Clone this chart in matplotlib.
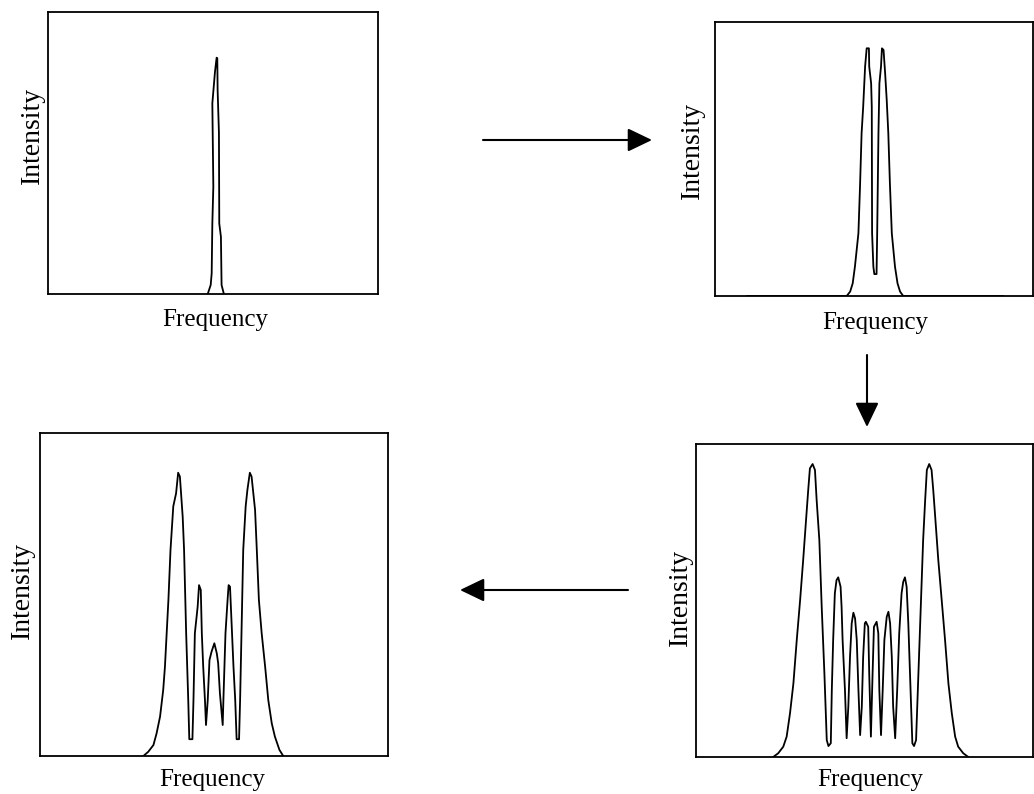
import numpy as np
import matplotlib.pyplot as plt

plt.close('all')
plt.rcParams['font.family'] = ['Liberation Serif', 'DejaVu Serif']

### DATA (frequency / intensity, both in 0-100 units of each box)

# 1) single narrow line
freq1 = [48.4, 49.3, 49.6, 49.8, 50.1, 49.8, 50.6, 51.1, 51.3, 51.4, 51.8, 51.9, 52.4, 52.6, 53.3]
inten1 = [0.0, 3.2, 7.3, 25.0, 38.1, 67.6, 78.8, 83.8, 83.6, 72.3, 57.1, 25.0, 20.3, 3.2, 0.0]

# 2) line split in two
freq2 = [10.1, 41.4, 42.5, 43.3, 44.0, 45.1, 45.6, 46.1, 46.6, 47.2, 47.7, 48.4, 48.5, 49.1,
         49.3, 49.4, 49.8, 50.1, 50.8, 51.0, 51.4, 51.7, 52.2, 52.5, 53.0, 53.5, 54.0, 54.5,
         55.0, 55.6, 56.6, 57.4, 58.2, 59.2, 90.6]
inten2 = [0.0, 0.0, 1.6, 4.6, 10.7, 22.9, 39.9, 59.4, 69.1, 83.7, 90.4, 90.4, 83.7, 77.6,
          69.1, 22.9, 10.7, 8.0, 8.0, 22.9, 59.4, 77.6, 83.7, 90.4, 89.8, 81.3, 71.5, 59.4,
          41.1, 22.9, 10.7, 4.6, 1.6, 0.0, 0.0]

# 3) five components (bottom left)
freq3 = [29.7, 31.1, 32.6, 33.5, 34.5, 35.4, 35.9, 36.4, 36.9, 37.5, 38.3, 39.1, 39.7, 40.2,
         41.0, 41.4, 42.0, 42.6, 42.9, 43.8, 44.1, 44.5, 45.3, 45.7, 46.2, 46.5, 46.9, 47.4,
         47.7, 48.2, 48.7, 49.3, 50.1, 50.8, 51.2, 51.7, 52.5, 52.7, 53.3, 53.9, 54.2, 54.6,
         55.1, 55.6, 56.1, 56.5, 57.2, 57.5, 57.9, 58.4, 59.1, 59.6, 60.3, 60.8, 61.8, 62.3,
         62.9, 63.7, 64.7, 65.6, 66.6, 67.5, 68.8, 69.9]
inten3 = [0.0, 1.3, 3.4, 7.0, 12.2, 20.4, 27.6, 38.0, 48.3, 63.8, 77.3, 81.3, 87.7, 86.5,
          74.1, 63.8, 38.0, 17.3, 5.2, 5.2, 17.3, 38.0, 46.2, 52.9, 51.4, 38.0, 27.6, 17.3,
          9.6, 17.3, 29.7, 32.3, 34.9, 31.8, 28.7, 19.4, 9.6, 17.3, 38.0, 48.3, 52.9, 52.4,
          40.0, 27.6, 17.3, 5.2, 5.2, 17.3, 38.0, 63.8, 77.3, 82.4, 87.7, 86.5, 76.2, 63.8,
          48.3, 38.0, 27.6, 17.3, 10.1, 6.0, 1.9, 0.0]

# 4) nine components (bottom right)
freq4 = [22.9, 24.4, 25.9, 26.9, 27.9, 28.9, 29.9, 30.9, 31.8, 32.8, 33.3, 33.8, 34.6, 35.3,
         35.8, 36.6, 37.3, 38.1, 38.8, 39.3, 40.0, 40.3, 40.7, 41.2, 41.7, 42.2, 42.9, 43.2,
         43.5, 44.2, 44.7, 45.2, 45.7, 46.2, 46.7, 47.2, 47.7, 48.2, 48.7, 49.2, 49.6, 50.1,
         50.4, 51.1, 51.4, 51.9, 52.4, 52.8, 53.6, 54.1, 54.4, 54.9, 55.4, 55.9, 56.6, 57.1,
         57.6, 58.1, 58.5, 59.1, 59.7, 60.3, 61.0, 61.5, 62.0, 62.5, 63.0, 63.5, 64.2, 64.7,
         65.3, 66.0, 66.7, 67.4, 68.0, 68.5, 69.2, 69.9, 70.4, 70.9, 71.9, 72.9, 73.9, 74.9,
         75.9, 76.9, 77.8, 79.3, 80.8]
inten4 = [0.0, 1.2, 3.3, 6.5, 14.0, 23.5, 37.4, 50.2, 62.9, 77.9, 85.3, 92.2, 93.6, 91.7,
          82.1, 69.3, 48.0, 26.7, 5.4, 3.5, 4.4, 21.4, 37.4, 52.3, 56.5, 57.4, 54.4, 48.0,
          37.4, 21.4, 6.0, 16.1, 32.0, 42.7, 46.1, 44.3, 37.4, 21.4, 7.0, 16.1, 32.0, 42.7,
          43.2, 41.6, 26.7, 6.5, 26.7, 41.6, 43.2, 39.5, 21.4, 7.0, 21.4, 37.4, 44.8, 46.4,
          42.7, 32.0, 16.1, 6.0, 21.4, 39.5, 52.3, 56.0, 57.4, 54.4, 42.7, 26.7, 4.4, 3.5,
          5.4, 26.7, 48.0, 69.3, 82.1, 91.7, 93.6, 91.7, 85.3, 77.9, 62.9, 50.2, 37.4, 23.5,
          14.0, 6.5, 3.3, 1.2, 0.0]

xlabel = 'Frequency'
ylabel = 'Intensity'

### FIGURE (positions in pixels of a 1034x794 canvas)
W, H = 1034, 794
fig = plt.figure(figsize=(W / 100, H / 100), dpi=100)

def box(left, top, right, bottom):
    return [left / W, (H - bottom) / H, (right - left) / W, (bottom - top) / H]

panels = [
    (box(48, 12, 378, 294), freq1, inten1, (215, 320), (32, 135)),
    (box(715, 22, 1033, 296), freq2, inten2, (875, 323), (692, 150)),
    (box(40, 433, 388, 756), freq3, inten3, (212, 780), (22, 590)),
    (box(696, 444, 1033, 757), freq4, inten4, (870, 780), (680, 597)),
]

for rect, f, i, xlab_pos, ylab_pos in panels:
    ax = fig.add_axes(rect)
    ax.plot(f, i, color='black', lw=1.3)
    ax.set_xlim(0, 100)
    ax.set_ylim(0, 100)
    ax.set_xticks([])
    ax.set_yticks([])
    for s in ax.spines.values():
        s.set_linewidth(1.3)
    fig.text(xlab_pos[0] / W, 1 - xlab_pos[1] / H, xlabel, fontsize=18,
             ha='center', va='center')
    fig.text(ylab_pos[0] / W, 1 - ylab_pos[1] / H, ylabel, fontsize=20,
             ha='center', va='center', rotation=90)

### Arrows between the panels
arrows = [((483, 140), (652, 140)),
          ((867, 355), (867, 427)),
          ((628, 590), (460, 590))]
for start, end in arrows:
    fig.add_artist(plt.matplotlib.patches.FancyArrowPatch(
        (start[0] / W, 1 - start[1] / H), (end[0] / W, 1 - end[1] / H),
        transform=fig.transFigure, arrowstyle='-|>,head_length=0.75,head_width=0.36',
        mutation_scale=20, color='black', lw=1.5, shrinkA=0, shrinkB=0))

plt.savefig('out.png', dpi=100)
